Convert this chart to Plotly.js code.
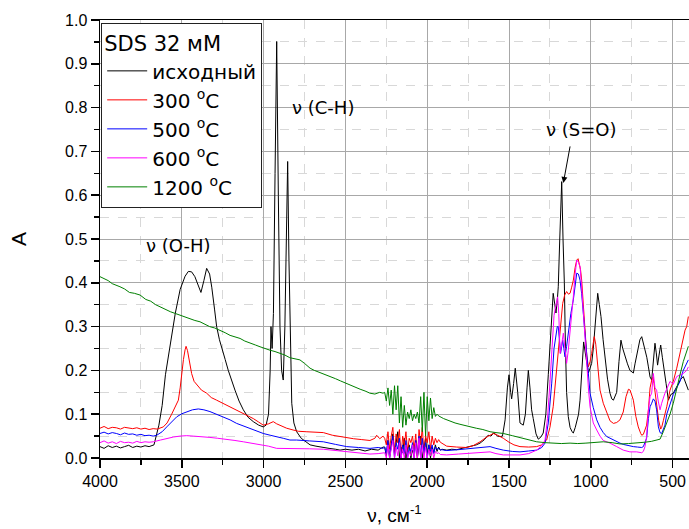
<!DOCTYPE html>
<html>
<head>
<meta charset="utf-8">
<script src="https://cdn.plot.ly/plotly-3.0.1.min.js"></script>
<style>html,body{margin:0;padding:0;background:#fff;}#chart{width:689px;height:529px;}</style>
</head>
<body>
<div id="chart"></div>
<script>
// ---- data (wavenumber, cm-1 ; absorbance A) ----
const seriesNames = ["исходный", "300 <sup>o</sup>C", "500 <sup>o</sup>C", "600 <sup>o</sup>C", "1200 <sup>o</sup>C"];

// shared noisy region near 2260-1910 cm-1
const wnNoise = [2260,2250,2240,2230,2220,2210,2200,2190,2180,2170,2160,2150,2140,2130,2120,2110,2100,2090,2080,2070,2060,2050,2040,2030,2020,2010,2000,1990,1980,1970,1960,1950,1940,1930,1920,1910];

const wnBlackA = [4000,3975,3950,3925,3900,3875,3850,3825,3800,3775,3750,3725,3700,3670,3640,3620,3600,3580,3560,3540,3510,3480,3460,3440,3420,3400,3383,3365,3348,3330,3317,3300,3287,3270,3256,3235,3216,3195,3175,3150,3124,3095,3063,3030,3002,2985,2970,2960,2955,2948,2940,2930,2920,2910,2900,2890,2880,2870,2860,2853,2845,2835,2828,2815,2798,2770,2740,2716,2680,2640,2600,2560,2533,2500,2460,2420,2380,2340,2300,2270];
const aBlackA = [0.026,0.022,0.028,0.024,0.027,0.023,0.026,0.029,0.024,0.027,0.025,0.028,0.026,0.03,0.075,0.12,0.19,0.24,0.28,0.33,0.385,0.415,0.426,0.425,0.414,0.395,0.378,0.405,0.433,0.42,0.39,0.34,0.3,0.27,0.25,0.225,0.2,0.175,0.155,0.13,0.11,0.093,0.083,0.075,0.071,0.075,0.1,0.2,0.3,0.25,0.33,0.65,0.951,0.6,0.3,0.2,0.178,0.3,0.55,0.677,0.45,0.2,0.125,0.08,0.06,0.045,0.036,0.03,0.027,0.024,0.022,0.02,0.018,0.02,0.018,0.02,0.016,0.02,0.018,0.025];
const aBlackNoise = [0.025,0.005,0.04,0.0,0.03,0.055,0.01,0.035,0.06,0.0,0.025,0.012,0.045,0.0,0.02,0.03,0.0,0.018,0.006,0.04,0.0,0.03,0.05,0.0,0.02,0.045,0.008,0.03,0.0,0.025,0.012,0.03,0.015,0.025,0.018,0.02];
const wnBlackB = [1880,1850,1820,1781,1740,1700,1677,1650,1628,1610,1595,1585,1570,1555,1540,1524,1510,1500,1490,1484,1472,1462,1447,1433,1413,1400,1390,1382,1372,1362,1352,1335,1321,1305,1291,1275,1260,1245,1230,1220,1213,1205,1199,1190,1178,1170,1162,1155,1148,1138,1127,1115,1107,1095,1086,1075,1066,1055,1044,1030,1015,1005,995,985,975,965,958,948,938,925,913,898,883,872,862,852,842,828,816,805,791,776,761,750,740,730,720,710,700,689,679,669,658,648,638,628,618,608,600,592,583,573,563,553,540,526,511,496,480,465,450,435,420,404];
const aBlackB = [0.018,0.02,0.019,0.022,0.026,0.03,0.034,0.042,0.052,0.05,0.057,0.055,0.05,0.049,0.05,0.087,0.16,0.19,0.15,0.135,0.17,0.205,0.15,0.08,0.075,0.1,0.16,0.2,0.16,0.11,0.09,0.055,0.043,0.048,0.057,0.1,0.19,0.28,0.376,0.35,0.331,0.36,0.391,0.5,0.631,0.5,0.4,0.25,0.15,0.095,0.07,0.06,0.057,0.07,0.087,0.1,0.132,0.2,0.265,0.23,0.194,0.205,0.216,0.25,0.292,0.34,0.376,0.35,0.323,0.27,0.224,0.18,0.148,0.135,0.132,0.14,0.15,0.22,0.269,0.25,0.231,0.215,0.2,0.197,0.194,0.215,0.235,0.25,0.27,0.277,0.262,0.247,0.23,0.208,0.185,0.178,0.23,0.262,0.24,0.212,0.235,0.258,0.23,0.208,0.17,0.132,0.145,0.148,0.16,0.171,0.18,0.186,0.17,0.155];

const wnRedA = [4000,3975,3950,3925,3900,3875,3850,3825,3800,3775,3750,3725,3700,3675,3650,3613,3590,3562,3540,3521,3510,3501,3490,3480,3474,3465,3455,3440,3425,3409,3380,3348,3320,3287,3255,3226,3185,3144,3100,3063,3030,3002,2970,2941,2920,2890,2859,2820,2788,2740,2700,2635,2580,2513,2450,2400,2350,2320,2309,2290,2270];
const aRedA = [0.068,0.072,0.067,0.07,0.069,0.066,0.07,0.068,0.067,0.069,0.066,0.068,0.065,0.067,0.066,0.071,0.08,0.1,0.118,0.132,0.16,0.193,0.225,0.247,0.255,0.245,0.225,0.193,0.175,0.167,0.155,0.148,0.138,0.132,0.126,0.121,0.113,0.106,0.097,0.09,0.082,0.075,0.078,0.083,0.078,0.073,0.068,0.064,0.061,0.06,0.059,0.058,0.052,0.047,0.044,0.042,0.04,0.045,0.052,0.044,0.05];
const aRedNoise = [0.045,0.03,0.06,0.02,0.05,0.07,0.01,0.055,0.035,0.065,0.0,0.05,0.03,0.06,0.015,0.045,0.035,0.05,0.02,0.055,0.0,0.065,0.03,0.07,0.01,0.05,0.035,0.06,0.02,0.05,0.03,0.045,0.035,0.042,0.036,0.034];
const wnRedB = [1890,1881,1820,1759,1720,1677,1640,1616,1596,1570,1535,1500,1470,1433,1380,1331,1300,1270,1250,1230,1215,1199,1185,1172,1160,1148,1137,1127,1117,1107,1096,1086,1078,1070,1063,1056,1046,1036,1025,1015,1005,995,985,979,970,964,954,944,924,903,883,862,842,822,802,785,770,760,750,740,725,710,695,689,679,669,659,648,638,628,620,614,605,598,585,573,567,557,547,536,516,496,475,455,435,424,414,404];
const aRedB = [0.03,0.027,0.025,0.024,0.028,0.037,0.047,0.052,0.056,0.052,0.045,0.036,0.03,0.026,0.025,0.026,0.03,0.041,0.07,0.117,0.18,0.247,0.31,0.353,0.372,0.38,0.374,0.376,0.39,0.406,0.435,0.452,0.455,0.444,0.43,0.406,0.35,0.285,0.235,0.208,0.22,0.239,0.265,0.277,0.26,0.239,0.195,0.155,0.125,0.102,0.085,0.079,0.081,0.087,0.105,0.14,0.157,0.155,0.145,0.132,0.095,0.071,0.056,0.052,0.054,0.065,0.075,0.11,0.16,0.178,0.185,0.17,0.14,0.117,0.085,0.066,0.07,0.085,0.1,0.117,0.155,0.175,0.205,0.24,0.28,0.292,0.3,0.323];

const wnBlueA = [4000,3975,3950,3925,3900,3875,3850,3825,3800,3775,3750,3725,3700,3675,3653,3620,3592,3560,3531,3500,3470,3435,3399,3365,3328,3290,3246,3205,3165,3125,3083,3040,3002,2960,2920,2880,2839,2798,2720,2635,2560,2492,2420,2350,2300,2270];
const aBlueA = [0.056,0.059,0.055,0.058,0.056,0.053,0.057,0.054,0.055,0.052,0.054,0.051,0.052,0.05,0.052,0.06,0.071,0.083,0.094,0.101,0.106,0.11,0.112,0.11,0.106,0.1,0.094,0.087,0.079,0.073,0.068,0.062,0.056,0.052,0.049,0.045,0.041,0.041,0.039,0.037,0.031,0.026,0.024,0.022,0.024,0.022];
const aBlueNoise = [0.025,0.01,0.04,0.0,0.03,0.05,0.0,0.035,0.02,0.045,0.0,0.03,0.01,0.04,0.0,0.025,0.015,0.035,0.0,0.04,0.005,0.05,0.0,0.045,0.01,0.035,0.0,0.03,0.015,0.03,0.01,0.025,0.02,0.022,0.018,0.019];
const wnBlueB = [1900,1881,1810,1738,1680,1616,1580,1535,1480,1433,1380,1331,1300,1280,1260,1250,1239,1225,1213,1205,1199,1192,1185,1178,1172,1165,1158,1148,1138,1122,1107,1096,1086,1076,1066,1056,1046,1036,1025,1015,1005,985,964,944,924,903,883,850,822,802,770,740,715,689,679,669,659,648,638,628,618,608,598,587,577,567,557,547,536,516,496,475,455,435,414,404];
const aBlueB = [0.018,0.017,0.019,0.022,0.024,0.026,0.022,0.018,0.015,0.014,0.016,0.018,0.024,0.034,0.08,0.12,0.171,0.25,0.285,0.3,0.3,0.27,0.239,0.255,0.269,0.25,0.231,0.255,0.285,0.33,0.361,0.395,0.422,0.42,0.406,0.375,0.33,0.275,0.224,0.18,0.148,0.115,0.087,0.07,0.058,0.049,0.045,0.038,0.034,0.031,0.028,0.026,0.025,0.024,0.026,0.034,0.045,0.09,0.117,0.125,0.135,0.13,0.11,0.071,0.058,0.056,0.065,0.075,0.1,0.125,0.145,0.16,0.175,0.2,0.216,0.224];

const wnMagA = [4000,3975,3950,3925,3900,3875,3850,3825,3800,3775,3750,3725,3700,3674,3630,3592,3550,3511,3470,3430,3380,3328,3280,3226,3175,3124,3070,3022,2970,2920,2880,2839,2798,2720,2635,2550,2472,2400,2350,2300,2270];
const aMagA = [0.035,0.039,0.034,0.037,0.033,0.038,0.035,0.036,0.034,0.038,0.035,0.037,0.036,0.037,0.041,0.045,0.048,0.05,0.051,0.05,0.049,0.047,0.045,0.043,0.04,0.037,0.034,0.031,0.027,0.022,0.022,0.022,0.022,0.021,0.02,0.017,0.014,0.011,0.009,0.01,0.012];
const aMagNoise = [0.012,0.0,0.03,0.0,0.02,0.04,0.0,0.025,0.005,0.035,0.0,0.02,0.0,0.03,0.0,0.015,0.005,0.03,0.0,0.035,0.0,0.045,0.0,0.03,0.0,0.025,0.0,0.02,0.005,0.02,0.0,0.015,0.01,0.012,0.008,0.008];
const wnMagB = [1900,1881,1810,1738,1680,1616,1580,1535,1433,1380,1331,1300,1280,1265,1250,1235,1225,1219,1210,1203,1196,1188,1178,1168,1158,1148,1138,1127,1117,1107,1096,1086,1076,1066,1056,1046,1036,1025,1015,1005,985,964,944,924,903,883,842,802,761,720,689,679,669,659,648,638,628,618,608,598,588,577,567,547,516,496,475,455,435,414,404];
const aMagB = [0.008,0.007,0.009,0.011,0.012,0.014,0.01,0.007,0.007,0.01,0.018,0.028,0.041,0.09,0.171,0.27,0.325,0.338,0.36,0.368,0.33,0.239,0.26,0.285,0.25,0.216,0.245,0.285,0.33,0.368,0.42,0.452,0.447,0.437,0.39,0.33,0.27,0.216,0.16,0.117,0.08,0.064,0.05,0.04,0.037,0.034,0.026,0.018,0.014,0.014,0.012,0.015,0.026,0.05,0.11,0.14,0.148,0.193,0.16,0.155,0.13,0.11,0.125,0.148,0.175,0.168,0.186,0.19,0.193,0.2,0.208];

const wnGreenA = [4000,3975,3950,3925,3900,3878,3850,3820,3790,3755,3720,3690,3660,3633,3600,3570,3540,3511,3480,3450,3420,3389,3360,3330,3300,3267,3235,3205,3175,3144,3115,3085,3050,3022,2990,2960,2930,2900,2870,2840,2810,2778,2750,2716,2690,2660,2630,2594,2560,2530,2500,2472,2440,2410,2380,2350,2320,2290,2270];
const aGreenA = [0.414,0.41,0.405,0.398,0.395,0.391,0.386,0.378,0.376,0.372,0.362,0.358,0.35,0.345,0.338,0.334,0.33,0.326,0.321,0.317,0.314,0.311,0.305,0.3,0.297,0.292,0.286,0.28,0.277,0.273,0.267,0.262,0.258,0.254,0.249,0.246,0.243,0.239,0.235,0.229,0.226,0.224,0.216,0.205,0.2,0.196,0.191,0.186,0.181,0.176,0.171,0.167,0.162,0.157,0.153,0.148,0.146,0.15,0.148];
const aGreenNoise = [0.15,0.13,0.16,0.12,0.155,0.1,0.165,0.11,0.165,0.08,0.14,0.07,0.12,0.075,0.105,0.09,0.11,0.085,0.1,0.09,0.105,0.08,0.14,0.06,0.15,0.05,0.14,0.085,0.137,0.09,0.115,0.095,0.1,0.096,0.093,0.092];
const wnGreenB = [1900,1880,1861,1830,1800,1770,1738,1700,1660,1616,1580,1535,1480,1430,1380,1331,1280,1230,1180,1127,1080,1030,980,924,870,820,770,720,670,630,598,577,557,536,516,496,475,455,435,420,404];
const aGreenB = [0.09,0.087,0.083,0.08,0.077,0.074,0.071,0.068,0.065,0.06,0.058,0.056,0.051,0.046,0.041,0.037,0.035,0.034,0.033,0.034,0.033,0.034,0.035,0.037,0.035,0.032,0.033,0.034,0.036,0.038,0.041,0.043,0.06,0.08,0.1,0.125,0.155,0.19,0.22,0.24,0.255];

const seriesColors = ["#000000", "#ff0000", "#0000ff", "#ff00ff", "#008000"];

// ---- build traces ----
const xs = [
  wnBlackA.concat(wnNoise, wnBlackB),
  wnRedA.concat(wnNoise, wnRedB),
  wnBlueA.concat(wnNoise, wnBlueB),
  wnMagA.concat(wnNoise, wnMagB),
  wnGreenA.concat(wnNoise, wnGreenB)
];
const ys = [
  aBlackA.concat(aBlackNoise, aBlackB),
  aRedA.concat(aRedNoise, aRedB),
  aBlueA.concat(aBlueNoise, aBlueB),
  aMagA.concat(aMagNoise, aMagB),
  aGreenA.concat(aGreenNoise, aGreenB)
];

const traces = seriesNames.map((n, i) => ({
  x: xs[i], y: ys[i], name: n, type: 'scatter', mode: 'lines',
  line: {color: seriesColors[i], width: 1},
  legendgroup: 'g' + i
}));

const fontFam = 'Arial, "Liberation Sans", sans-serif';
const wideFam = '"DejaVu Sans", Verdana, sans-serif';

const layout = {
  width: 689, height: 529,
  margin: {l: 100, r: 0, t: 20, b: 71},
  paper_bgcolor: '#fff', plot_bgcolor: '#fff',
  font: {family: fontFam, size: 16, color: '#000'},
  showlegend: true,
  legend: {
    x: 0.002, y: 0.993, xanchor: 'left', yanchor: 'top',
    bgcolor: '#fff', bordercolor: '#222', borderwidth: 1,
    font: {family: wideFam, size: 20, color: '#000'},
    title: {text: 'SDS 32 мМ', font: {family: wideFam, size: 21}},
    tracegroupgap: 7, traceorder: 'normal', itemwidth: 40
  },
  xaxis: {
    range: [4000, 400], autorange: false,
    dtick: 500, tick0: 0,
    ticks: 'outside', ticklen: 8, tickwidth: 1.5, tickcolor: '#000',
    showline: true, linecolor: '#000', linewidth: 1.5, mirror: true,
    showgrid: true, gridcolor: '#a8a8a8', gridwidth: 1,
    zeroline: false,
    tickfont: {family: fontFam, size: 16},
    minor: {dtick: 250, showgrid: true, gridcolor: '#d8d8d8', griddash: 'dash', ticks: 'outside', ticklen: 5, tickcolor: '#000'},
    title: {text: 'ν, см<sup>-1</sup>', font: {family: fontFam, size: 19}, standoff: 20}
  },
  yaxis: {
    range: [0, 1.0], autorange: false,
    dtick: 0.1, tick0: 0, tickformat: '.1f',
    ticks: 'outside', ticklen: 8, tickwidth: 1.5, tickcolor: '#000',
    showline: true, linecolor: '#000', linewidth: 1.5,
    showgrid: true, gridcolor: '#a8a8a8', gridwidth: 1,
    zeroline: false,
    tickfont: {family: fontFam, size: 16},
    minor: {dtick: 0.05, showgrid: true, gridcolor: '#d8d8d8', griddash: 'dash', ticks: 'outside', ticklen: 5, tickcolor: '#000'},
    title: {text: 'A', font: {family: fontFam, size: 21}, standoff: 32}
  },
  annotations: [
    {x: 3523, y: 0.486, xref: 'x', yref: 'y', text: 'ν (O-H)', showarrow: false, font: {family: wideFam, size: 18}},
    {x: 2637, y: 0.801, xref: 'x', yref: 'y', text: 'ν (C-H)', showarrow: false, font: {family: wideFam, size: 18}},
    {x: 1060, y: 0.749, xref: 'x', yref: 'y', text: 'ν (S=O)', showarrow: false, font: {family: wideFam, size: 18}},
    {x: 1168, y: 0.628, xref: 'x', yref: 'y', text: '', showarrow: true, arrowhead: 2, arrowsize: 1.2, arrowwidth: 1, arrowcolor: '#000', ax: 7, ay: -38, standoff: 0}
  ]
};

Plotly.newPlot('chart', traces, layout, {displayModeBar: false, staticPlot: true});
</script>
</body>
</html>
